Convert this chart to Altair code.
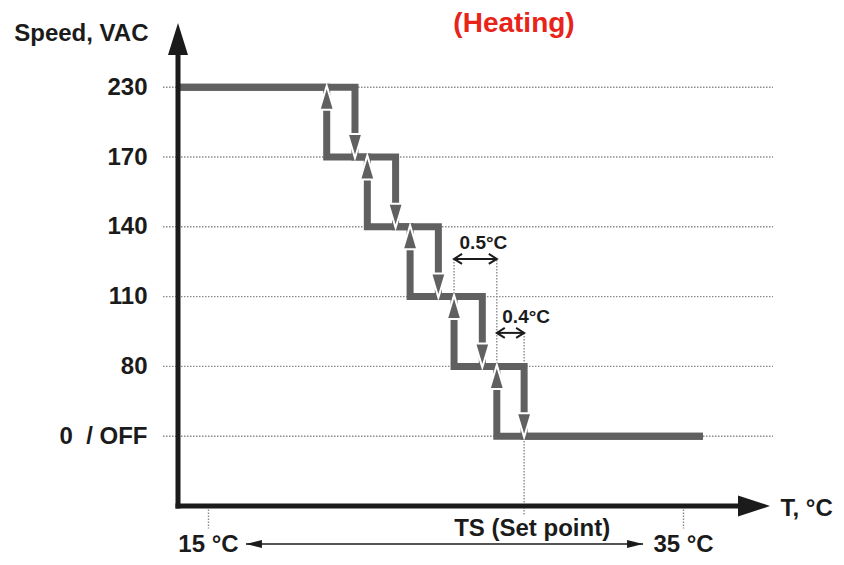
import json
import altair as alt
import pandas as pd

# ---------------- values ----------------
# speed levels, bottom -> top (equally spaced on the chart)
speed_labels = ["0\u00a0 / OFF", "80", "110", "140", "170", "230"]
speed_index = [0, 1, 2, 3, 4, 5]

# switching temperatures (schematic °C positions)
step_up_t = [20.00, 21.71, 23.51, 25.36, 27.16]    # speed goes up (cooling)
step_down_t = [21.19, 22.90, 24.70, 26.55, 28.31]  # speed goes down (heating)
step_upper = [5, 4, 3, 2, 1]
step_lower = [4, 3, 2, 1, 0]

axis_t = 13.74       # temperature at the vertical axis
off_end_t = 35.84    # end of the OFF line
max_t = 38.66        # tip of the temperature arrow
bottom_level = -1
top_level = 5.92
range_t = [15, 35]
setpoint_t = 28.31
setpoint_label = "TS (Set point)"

diff_labels = ["0.5°C", "0.4°C"]
diff_from_t = [step_up_t[3], step_up_t[4]]
diff_to_t = [step_up_t[4], step_down_t[4]]
diff_rest = [step_upper[3], step_upper[4]]
diff_level = [2.54, 1.48]

# ---------------- styles ----------------
FONT = "Liberation Sans"
INK = "#1b1b1b"
STEP = "#606060"
GRID = "#8a8a8a"
RED = "#e8231a"

xscale = alt.Scale(domain=[axis_t, max_t], nice=False, zero=False)
yscale = alt.Scale(domain=[bottom_level, top_level], nice=False, zero=False)

y_axis = alt.Axis(
    values=speed_index,
    labelExpr=json.dumps(speed_labels, ensure_ascii=False) + "[datum.value]",
    domain=False, ticks=False, tickSize=0, grid=False, labelPadding=31,
    labelFont=FONT, labelFontSize=24, labelFontWeight="bold", labelColor=INK,
    labelBaseline="middle", labelOverlap=False,
    title="Speed, VAC", titleAngle=0, titleAlign="right", titleBaseline="middle",
    titleX=-30, titleY=10, titleFont=FONT, titleFontSize=24, titleFontWeight="bold",
    titleColor=INK,
)
x_axis = alt.Axis(
    values=range_t, labelExpr="datum.value + ' °C'",
    domain=False, grid=False, ticks=True, tickSize=22, tickColor=GRID,
    tickWidth=1.4, tickDash=[1.5, 1.5], labelPadding=23, labelBaseline="alphabetic",
    labelFont=FONT, labelFontSize=24, labelFontWeight="bold", labelColor=INK,
    labelOverlap=False, labelFlush=False,
    title="T, °C", titleX=602, titleY=2, titleAlign="left", titleBaseline="middle",
    titleFont=FONT, titleFontSize=24, titleFontWeight="bold", titleColor=INK,
)


def xq(f):
    return alt.X(f, type="quantitative", scale=xscale, axis=x_axis)


def yq(f):
    return alt.Y(f, type="quantitative", scale=yscale, axis=y_axis)


# ---------------- tables ----------------
heat = [(axis_t, 5)]
for k in range(5):
    heat += [(step_down_t[k], step_upper[k]), (step_down_t[k], step_lower[k])]
heat += [(off_end_t, 0)]
cool = [(off_end_t, 0)]
for k in reversed(range(5)):
    cool += [(step_up_t[k], step_lower[k]), (step_up_t[k], step_upper[k])]
cool += [(axis_t, 5)]
rows = []
for name, pts in (("heat", heat), ("cool", cool)):
    for i, (t, lv) in enumerate(pts):
        rows.append({"path": name, "order": i, "t": t, "level": lv})
path_df = pd.DataFrame(rows)

grid_df = pd.DataFrame({"level": speed_index, "t0": axis_t, "t1": max_t})
up_df = pd.DataFrame({"t": step_up_t, "level": step_upper})
down_df = pd.DataFrame({"t": step_down_t, "level": step_lower})
dim_df = pd.DataFrame({"label": diff_labels, "t0": diff_from_t, "t1": diff_to_t,
                       "level": diff_level})
ext_df = pd.DataFrame({"t": diff_from_t[:1] + diff_to_t[:1],
                       "y0": diff_rest, "y1": [diff_level[0], diff_level[0]]})
ts_df = pd.DataFrame({"t": [setpoint_t], "y0": [diff_level[1]], "y1": [bottom_level],
                      "label": [setpoint_label]})
axes_df = pd.DataFrame({"t0": [axis_t], "t1": [max_t], "y0": [bottom_level],
                        "y1": [top_level]})
span_df = pd.DataFrame({"t0": [range_t[0]], "t1": [range_t[1]], "y": [bottom_level]})

# ---------------- layers ----------------
grid = alt.Chart(grid_df).mark_rule(
    color=GRID, strokeWidth=1.4, strokeDash=[1.5, 1.5], xOffset=-15, x2Offset=3
).encode(x=xq("t0"), x2="t1", y=yq("level"))

ext = alt.Chart(ext_df).mark_rule(
    color=GRID, strokeWidth=1.4, strokeDash=[1.5, 1.5]
).encode(x=xq("t"), y=yq("y0"), y2="y1")

ts_line = alt.Chart(ts_df).mark_rule(
    color=GRID, strokeWidth=1.4, strokeDash=[1.5, 1.5], y2Offset=9
).encode(x=xq("t"), y=yq("y0"), y2="y1")

steps = alt.Chart(path_df).mark_line(
    color=STEP, strokeWidth=7, strokeJoin="miter", strokeCap="butt"
).encode(x=xq("t"), y=yq("level"), detail="path:N", order="order:Q")

up_arrows = alt.Chart(up_df).mark_point(
    shape="M0,-1L0.6,1L-0.6,1Z", size=576, filled=True, fill=STEP,
    stroke="white", strokeWidth=2, opacity=1, yOffset=10.5
).encode(x=xq("t"), y=yq("level"))

down_arrows = alt.Chart(down_df).mark_point(
    shape="M0,1L0.6,-1L-0.6,-1Z", size=576, filled=True, fill=STEP,
    stroke="white", strokeWidth=2, opacity=1, yOffset=-11
).encode(x=xq("t"), y=yq("level"))

y_line = alt.Chart(axes_df).mark_rule(
    color=INK, strokeWidth=5, strokeCap="square", y2Offset=28
).encode(x=xq("t0"), y=yq("y0"), y2="y1")

x_line = alt.Chart(axes_df).mark_rule(
    color=INK, strokeWidth=5, strokeCap="square", x2Offset=-28
).encode(x=xq("t0"), x2="t1", y=yq("y0"))

y_head = alt.Chart(axes_df).mark_point(
    shape="M0,-1L0.625,1L-0.625,1Z", size=1024, filled=True, fill=INK,
    strokeWidth=0, opacity=1, yOffset=16
).encode(x=xq("t0"), y=yq("y1"))

x_head = alt.Chart(axes_df).mark_point(
    shape="M1,0L-1,-0.66L-1,0.66Z", size=1024, filled=True, fill=INK,
    strokeWidth=0, opacity=1, xOffset=-16
).encode(x=xq("t1"), y=yq("y0"))

dim_line = alt.Chart(dim_df).mark_rule(color=INK, strokeWidth=2).encode(
    x=xq("t0"), x2="t1", y=yq("level")
)
dim_left = alt.Chart(dim_df).mark_point(
    shape="M0.8,-1L-0.8,0L0.8,1", size=100, filled=False, stroke=INK,
    strokeWidth=2, opacity=1, xOffset=4
).encode(x=xq("t0"), y=yq("level"))
dim_right = alt.Chart(dim_df).mark_point(
    shape="M-0.8,-1L0.8,0L-0.8,1", size=100, filled=False, stroke=INK,
    strokeWidth=2, opacity=1, xOffset=-4
).encode(x=xq("t1"), y=yq("level"))
dim_text = alt.Chart(dim_df).mark_text(
    align="left", baseline="middle", dx=5.5, dy=-16, font=FONT, fontSize=19,
    fontWeight="bold", color=INK
).encode(x=xq("t0"), y=yq("level"), text="label:N")

ts_text = alt.Chart(ts_df).mark_text(
    align="center", baseline="middle", dx=8, dy=23, font=FONT, fontSize=24,
    fontWeight="bold", color=INK
).encode(x=xq("t"), y=yq("y1"), text="label:N")

span_line = alt.Chart(span_df).mark_rule(
    color=INK, strokeWidth=1.5, xOffset=38, x2Offset=-40, yOffset=38, y2Offset=38
).encode(x=xq("t0"), x2="t1", y=yq("y"), y2="y")
span_left = alt.Chart(span_df).mark_point(
    shape="M-1,0L1,-0.5L1,0.5Z", size=256, filled=True, fill=INK, strokeWidth=0,
    opacity=1, xOffset=46, yOffset=38
).encode(x=xq("t0"), y=yq("y"))
span_right = alt.Chart(span_df).mark_point(
    shape="M1,0L-1,-0.5L-1,0.5Z", size=256, filled=True, fill=INK, strokeWidth=0,
    opacity=1, xOffset=-48, yOffset=38
).encode(x=xq("t1"), y=yq("y"))

chart = alt.layer(
    grid, ext, ts_line, steps, up_arrows, down_arrows, y_line, x_line, y_head,
    x_head, dim_line, dim_left, dim_right, dim_text, ts_text, span_line,
    span_left, span_right,
).properties(
    width=592,
    height=483,
    padding={"left": 170, "top": 15, "right": 66, "bottom": 51},
    autosize=alt.AutoSizeParams(type="none"),
    background="white",
    title=alt.TitleParams(
        text="(Heating)", color=RED, font=FONT, fontSize=28, fontWeight="bold",
        anchor="middle", dx=40, offset=-17,
    ),
).configure_view(stroke=None)

chart.save("out.html", embed_options={"renderer": "svg", "actions": False})
